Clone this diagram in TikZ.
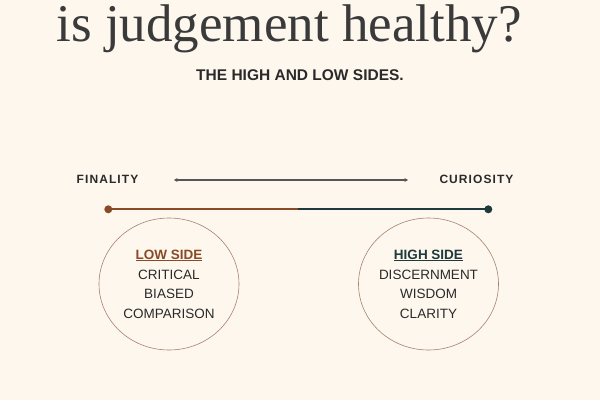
\documentclass[tikz,border=0pt]{standalone}
\usepackage{fontspec}
\setmainfont{Liberation Serif}
\setsansfont{Liberation Sans}
\usetikzlibrary{arrows.meta}
\definecolor{bg}{HTML}{FDF7EE}
\definecolor{ink}{HTML}{2A2A2A}
\definecolor{titlec}{HTML}{3A3A3A}
\definecolor{lowc}{HTML}{8A4A26}
\definecolor{highc}{HTML}{1E3A3A}
\definecolor{ringc}{HTML}{A88270}
\definecolor{arrc}{HTML}{555555}
\newfontfamily\capsfont[LetterSpace=9]{Liberation Sans}
\tikzset{
  title/.style={anchor=base, text=titlec, inner sep=0pt, font=\fontsize{53}{60}\selectfont},
  caps/.style={anchor=base, text=ink, inner sep=0pt, font=\capsfont\bfseries\fontsize{12}{14}\selectfont},
  subtitle/.style={anchor=base, text=ink, inner sep=0pt, font=\sffamily\bfseries\fontsize{15.5}{18}\selectfont},
  item/.style={anchor=base, text=ink, inner sep=0pt, font=\sffamily\fontsize{13.5}{16}\selectfont},
  head/.style={anchor=base, inner sep=0pt, font=\sffamily\bfseries\fontsize{13.5}{16}\selectfont},
  dot/.style={circle, inner sep=0pt, minimum size=8pt},
  ring/.style={draw=ringc, line width=0.6pt},
}
\begin{document}
\begin{tikzpicture}[x=1pt,y=-1pt]
\fill[bg] (0,0) rectangle (600,400);
\useasboundingbox (0,0) rectangle (600,400);
\node[title] (t) at (289,41) {is judgement healthy?};
\node[subtitle] (sub) at (300,80) {THE HIGH AND LOW SIDES.};
\node[caps] (fin) at (107.5,183.3) {FINALITY};
\node[caps] (cur) at (476.5,183.3) {CURIOSITY};
\coordinate (al) at (174,180);
\coordinate (ar) at (408,180);
\draw[arrc, line width=1.5pt, {Stealth[length=3.5pt,width=4pt]}-{Stealth[length=3.5pt,width=4pt]}] (al) -- (ar);
\node[dot, fill=lowc] (dl) at (108.3,209.3) {};
\node[dot, fill=highc] (dr) at (488.3,209.3) {};
\coordinate (mid) at (298.3,209.3);
\draw[lowc, line width=2pt] (dl.center) -- (mid);
\draw[highc, line width=2pt] (mid) -- (dr.center);
\draw[ring] (169,284) ellipse [x radius=70, y radius=66];
\draw[ring] (428.5,284) ellipse [x radius=70, y radius=66];
\node[head, text=lowc] (lh) at (169,259) {\underline{LOW SIDE}};
\node[item] (l1) at (169,279) {CRITICAL};
\node[item] (l2) at (169,298.5) {BIASED};
\node[item] (l3) at (169,318) {COMPARISON};
\node[head, text=highc] (hh) at (428.5,259) {\underline{HIGH SIDE}};
\node[item] (h1) at (428.5,279) {DISCERNMENT};
\node[item] (h2) at (428.5,298.5) {WISDOM};
\node[item] (h3) at (428.5,318) {CLARITY};
\end{tikzpicture}
\end{document}
